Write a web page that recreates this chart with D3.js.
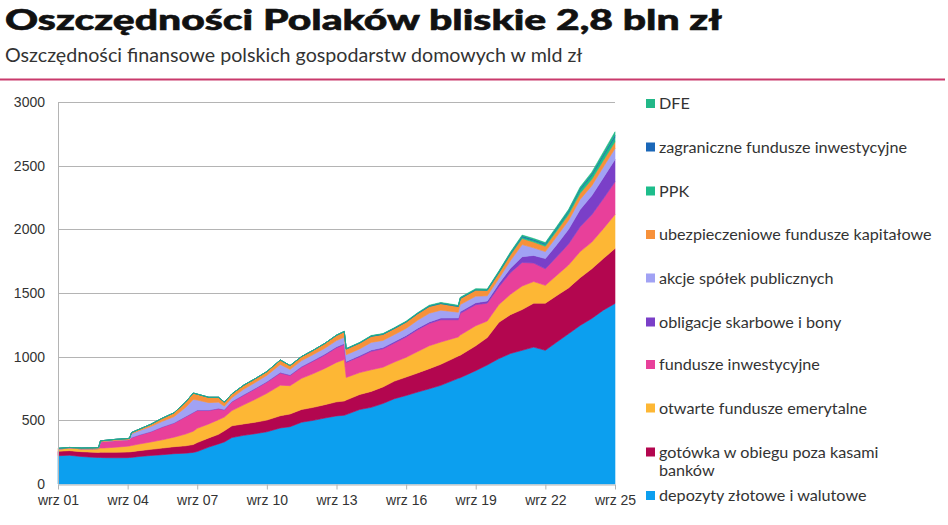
<!DOCTYPE html>
<html>
<head>
<meta charset="utf-8">
<script src="https://cdn.jsdelivr.net/npm/d3@7"></script>
<style>
  body { margin: 0; background: #fff; }
  svg { display: block; }
</style>
</head>
<body>
<div id="chart"></div>
<script>
// --- Données (mld zł) ---
const dates = ["2001-09","2002-03","2002-09","2003-03","2003-06","2003-07","2003-09","2004-03","2004-09","2004-10",
  "2004-11","2005-03","2005-09","2006-03","2006-09","2007-03","2007-07","2007-09","2008-03","2008-08",
  "2008-11","2009-03","2009-09","2010-03","2010-09","2011-04","2011-09","2012-03","2012-09","2013-03",
  "2013-09","2014-01","2014-02","2014-09","2015-03","2015-09","2016-03","2016-09","2017-03","2017-09",
  "2018-03","2018-12","2019-01","2019-09","2020-03","2020-09","2021-03","2021-09","2022-03","2022-09",
  "2023-03","2023-09","2024-03","2024-09","2025-03","2025-09"];

const depozyty = [222,226,216,210,208,208,207,206,207,208,209,216,224,230,238,242,248,255,290,315,
  330,365,382,395,410,440,450,485,500,518,535,540,545,585,602,632,670,695,722,748,
  775,830,835,890,935,985,1025,1050,1075,1050,1115,1180,1245,1300,1365,1418];
const gotowka = [35,36,38,40,40,42,42,43,44,44,45,46,48,52,55,58,62,70,72,75,
  88,92,90,90,92,96,100,100,102,105,110,112,114,118,125,130,138,145,150,158,
  165,175,177,195,215,285,305,320,345,370,365,360,375,390,405,432];
const ofe = [18,20,23,27,30,32,34,40,46,47,48,52,58,65,75,92,105,112,110,115,
  108,120,150,180,210,240,222,245,265,285,310,325,178,172,170,155,150,155,168,180,
  175,150,158,158,130,140,160,185,170,140,160,180,205,210,235,267];
const funduszeInw = [0,0,0,0,0,48,50,52,50,51,62,70,80,100,110,135,145,140,105,85,
  55,68,75,82,88,95,80,88,98,105,115,118,118,125,145,145,150,160,172,175,
  175,135,170,165,140,140,170,185,145,130,145,165,195,215,235,256];
const obligacje = [0,0,0,0,0,1,1,1,1,1,2,2,3,3,3,4,4,4,4,5,
  5,5,5,5,5,6,6,6,7,8,8,8,8,9,10,10,11,12,12,12,
  13,14,14,15,18,25,35,45,60,80,95,115,135,150,165,176];
const akcje = [0,0,0,0,0,0,0,0,0,0,28,32,38,42,48,70,100,78,58,48,
  25,28,42,45,48,62,42,45,45,45,48,50,52,52,60,55,55,55,62,68,
  62,45,55,52,40,40,60,95,60,55,65,70,80,78,85,86];
const ubezpieczeniowe = [5,5,6,7,8,8,8,9,9,9,10,12,18,25,30,42,50,47,42,38,
  32,30,32,30,30,35,30,32,34,38,42,44,45,46,48,48,48,50,52,54,
  52,45,48,48,42,42,45,48,45,42,44,46,48,50,51,52];
const ppk = [0,0,0,0,0,0,0,0,0,0,0,0,0,0,0,0,0,0,0,0,
  0,0,0,0,0,0,0,0,0,0,0,0,0,0,0,0,0,0,0,0,
  0,0,0,1,3,6,9,12,13,14,18,22,28,32,36,39];
const zagraniczne = [0,0,0,0,0,0,0,0,0,0,0,0,0,0,0,0,0,0,0,0,
  0,0,0,0,0,0,0,0,0,0,1,1,2,3,3,3,3,3,3,4,
  4,4,4,4,4,5,6,7,7,7,8,8,9,10,11,13];
const dfe = [0,0,0,0,0,0,0,0,0,0,0,0,0,0,0,0,0,0,0,0,
  0,0,0,0,0,0,0,0,0,0,1,2,2,2,3,3,3,4,4,5,
  5,5,5,6,5,6,7,8,8,8,9,10,12,14,18,27];

// Séries de bas en haut
const seriesKeys = ["depozyty","gotowka","ofe","funduszeInw","obligacje","akcje","ubezpieczeniowe","ppk","zagraniczne","dfe"];
const seriesValues = [depozyty, gotowka, ofe, funduszeInw, obligacje, akcje, ubezpieczeniowe, ppk, zagraniczne, dfe];
const seriesLabels = ["depozyty złotowe i walutowe","gotówka w obiegu poza kasami banków","otwarte fundusze emerytalne",
  "fundusze inwestycyjne","obligacje skarbowe i bony","akcje spółek publicznych",
  "ubezpieczeniowe fundusze kapitałowe","PPK","zagraniczne fundusze inwestycyjne","DFE"];
const seriesColors = ["#0c9fef","#b3064f","#fdb735","#e8409a","#7a3fc8","#a1a2f4","#f7913a","#1dbd8b","#1a67b8","#22b888"];

const yTicks = [0, 500, 1000, 1500, 2000, 2500, 3000];
const xTickYears = [2001, 2004, 2007, 2010, 2013, 2016, 2019, 2022, 2025];

// Dimensions
const W = 948, H = 525;
const plot = { left: 58, right: 615, top: 102, bottom: 484 };
const axisFont = "'Liberation Sans', Arial, sans-serif";

const parse = d3.timeParse("%Y-%m");
const table = dates.map((d, i) => {
  const row = { date: parse(d) };
  seriesKeys.forEach((k, j) => row[k] = seriesValues[j][i]);
  return row;
});

const svg = d3.select("#chart").append("svg")
  .attr("width", W).attr("height", H)
  .style("font-family", "Lato, 'Open Sans', sans-serif");

svg.append("rect").attr("width", W).attr("height", H).attr("fill", "#fff");

// --- Titre ---
svg.append("text")
  .attr("x", 5).attr("y", 30)
  .attr("textLength", 717).attr("lengthAdjust", "spacingAndGlyphs")
  .style("font-size", "29px").style("font-weight", 900).style("fill", "#111")
  .style("stroke", "#111").style("stroke-width", 0.6)
  .text("Oszczędności Polaków bliskie 2,8 bln zł");

const subtitle = svg.append("text")
  .attr("x", 5).attr("y", 62)
  .style("font-size", "17px").style("font-weight", 400).style("fill", "#333")
  .text("Oszczędności finansowe polskich gospodarstw domowych w mld zł");
const sw = subtitle.node().getComputedTextLength();
subtitle.style("font-size", (17 * 578 / sw) + "px");

svg.append("line")
  .attr("x1", 0).attr("x2", 945).attr("y1", 79.5).attr("y2", 79.5)
  .style("stroke", "#c93a6c").style("stroke-width", 2);

// --- Echelles ---
const x = d3.scaleTime()
  .domain([parse("2001-09"), parse("2025-09")])
  .range([plot.left, plot.right]);
const y = d3.scaleLinear().domain([0, 3000]).range([plot.bottom, plot.top]);

// Grille
svg.append("g").selectAll("line").data(yTicks.filter(t => t > 0)).enter().append("line")
  .attr("x1", plot.left).attr("x2", plot.right)
  .attr("y1", d => Math.round(y(d)) + 0.5).attr("y2", d => Math.round(y(d)) + 0.5)
  .style("stroke", "#b4b4b4").style("stroke-width", 1);

// --- Aires empilées ---
const stack = d3.stack().keys(seriesKeys);
const layers = stack(table);
const area = d3.area()
  .x(d => x(d.data.date))
  .y0(d => y(d[0]))
  .y1(d => y(d[1]));

svg.append("g").selectAll("path").data(layers).enter().append("path")
  .attr("d", area)
  .style("fill", (d, i) => seriesColors[i])
  .style("stroke", (d, i) => seriesColors[i])
  .style("stroke-width", 0.6);

// Axe Y
svg.append("line")
  .attr("x1", plot.left + 0.5).attr("x2", plot.left + 0.5)
  .attr("y1", plot.top).attr("y2", plot.bottom)
  .style("stroke", "#b4b4b4");

svg.append("g").selectAll("text").data(yTicks).enter().append("text")
  .attr("x", 45).attr("y", d => y(d) + 5)
  .attr("text-anchor", "end")
  .style("font-family", axisFont)
  .style("font-size", "14px").style("fill", "#333")
  .text(d => d);

// Axe X
const xAxis = d3.axisBottom(x)
  .tickValues(xTickYears.map(yr => new Date(yr, 8, 1)))
  .tickFormat(d => "wrz " + d3.timeFormat("%y")(d))
  .tickSize(5).tickSizeOuter(0);

const gx = svg.append("g")
  .attr("transform", `translate(0,${plot.bottom + 0.5})`)
  .call(xAxis);
gx.select(".domain").style("stroke", "#b4b4b4");
gx.selectAll(".tick line").style("stroke", "#b4b4b4");
gx.selectAll(".tick text")
  .attr("y", 11)
  .style("font-size", "14px").style("fill", "#333")
  .style("font-family", axisFont);

// --- Légende ---
const legendY = [496, 452.5, 408.5, 365, 322.5, 278.5, 235, 191.5, 147.5, 104];
const legend = svg.append("g");
seriesLabels.forEach((lab, i) => {
  const g = legend.append("g").attr("transform", `translate(646,${legendY[i]})`);
  g.append("rect").attr("x", 0).attr("y", -5).attr("width", 9).attr("height", 9)
    .style("fill", seriesColors[i]);
  const t = g.append("text").attr("class", "leg").attr("x", 13).attr("y", 5)
    .style("font-size", "15px").style("fill", "#333");
  if (lab.startsWith("gotówka")) {
    t.append("tspan").attr("x", 13).text("gotówka w obiegu poza kasami");
    t.append("tspan").attr("x", 13).attr("dy", 18).text("banków");
  } else {
    t.text(lab);
  }
});

// Ajustement de la taille de police de la légende
const longest = legend.selectAll("text.leg").filter(function () {
  return d3.select(this).text() === "ubezpieczeniowe fundusze kapitałowe";
});
const lw = longest.node().getComputedTextLength();
legend.selectAll("text.leg").style("font-size", (15 * 273 / lw) + "px");
</script>
</body>
</html>
